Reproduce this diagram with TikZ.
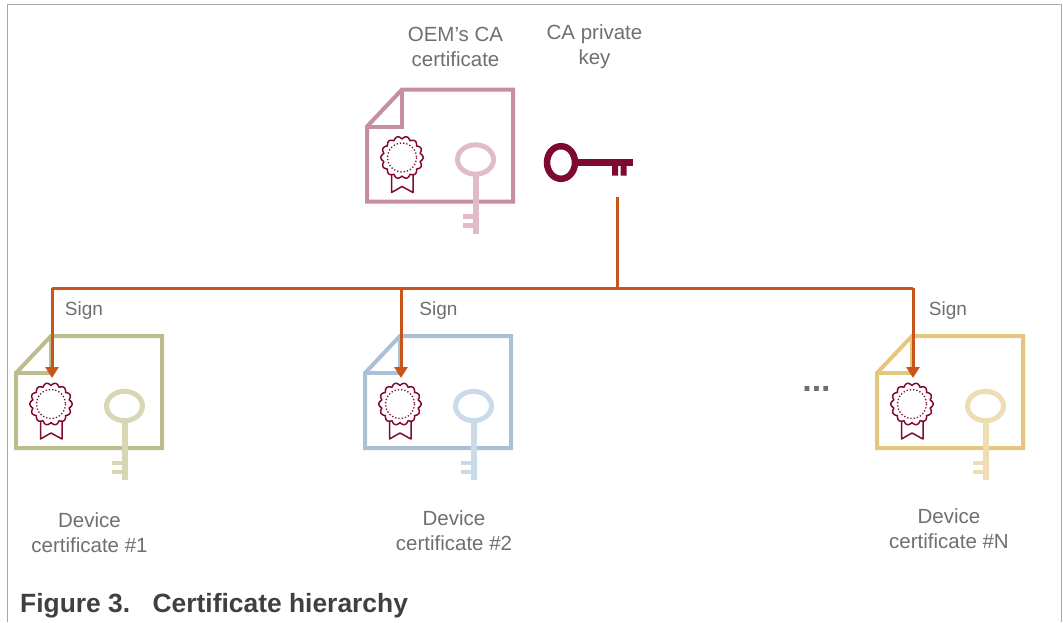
\documentclass[tikz,border=0pt]{standalone}
\usepackage{fontspec}
\setmainfont{Liberation Sans}
\usetikzlibrary{arrows.meta}
\definecolor{txtgray}{HTML}{6E6F72}
\definecolor{capgray}{HTML}{404040}
\definecolor{frameg}{HTML}{A8A8A8}
\definecolor{wine}{HTML}{7F0A30}
\definecolor{orng}{HTML}{C9551C}
\definecolor{roseA}{HTML}{C68DA3}
\definecolor{roseB}{HTML}{E0BCC9}
\definecolor{oliveA}{HTML}{BDBC8C}
\definecolor{oliveB}{HTML}{D8D7B4}
\definecolor{blueA}{HTML}{A9C0D6}
\definecolor{blueB}{HTML}{CBDAE8}
\definecolor{goldA}{HTML}{E5C67F}
\definecolor{goldB}{HTML}{EEDDB2}
\tikzset{
  x=1pt,y=-1pt,
  label text/.style={text=txtgray,font=\fontsize{20.5}{25}\selectfont,align=center,inner sep=0pt},
  sign text/.style={text=txtgray,font=\fontsize{19}{22}\selectfont,inner sep=0pt},
  link/.style={draw=orng,line width=3pt},
  linkarrow/.style={link,-{Triangle[length=11pt,width=13pt]}},
  pics/cert/.style 2 args={code={
    \draw[#1,line width=4pt,line join=miter] (0,37) -- (35,0) -- (146,0) -- (146,112) -- (0,112) -- cycle;
    \draw[#1,line width=4pt] (0,37) -- (35,37) -- (35,0);
    \draw[wine,line width=1.5pt,line join=round] (24.5,60) -- (24.5,103) -- (35,97) -- (46,103) -- (46,60);
    \fill[white,draw=wine,line width=1.5pt,line join=round,samples=260,domain=0:360,smooth]
      plot ({35+(18.5+2.6*abs(cos(7*\x)))*cos(\x)},{68+(18.5+2.6*abs(cos(7*\x)))*sin(\x)}) -- cycle;
    \draw[wine,line width=1.3pt,dash pattern=on 1.3pt off 2pt] (35,68) circle[radius=14.5];
    \draw[#2,line width=5pt] (108.5,70) ellipse[x radius=18,y radius=14.7];
    \draw[#2,line width=6pt] (109,85) -- (109,144);
    \draw[#2,line width=4.5pt] (96,127) -- (109,127) (96,136) -- (109,136);
  }}
}
\begin{document}
\begin{tikzpicture}
\useasboundingbox (0,0) rectangle (1063,622);
\draw[frameg,line width=1.2pt] (7.2,622) -- (7.2,4.7) -- (1061.5,4.7) -- (1061.5,622);
\node[label text] (caLabel) at (455.5,47) {OEM’s CA\\certificate};
\node[label text] (keyLabel) at (594.5,47) {CA private\\key};
\pic at (367,89.5) {cert={roseA}{roseB}};
\draw[wine,line width=6.5pt] (561,162.5) ellipse[x radius=14,y radius=16.3];
\draw[wine,line width=6.5pt] (577,162.5) -- (633,162.5);
\fill[wine] (612,162.5) rectangle (618,175.5) (620.5,162.5) rectangle (626.5,175.5);
\pic at (16,336) {cert={oliveA}{oliveB}};
\pic at (365,336) {cert={blueA}{blueB}};
\pic at (877,336) {cert={goldA}{goldB}};
\coordinate (keyEnd) at (617,197);
\coordinate (junction) at (617,288);
\coordinate (busA) at (52,288);
\coordinate (busB) at (401,288);
\coordinate (busC) at (913,288);
\coordinate (tipA) at (52,378);
\coordinate (tipB) at (401,378);
\coordinate (tipC) at (913,378);
\draw[link] (keyEnd) -- (junction);
\draw[link] (busA) -- (busC);
\draw[linkarrow] (busA) -- (tipA);
\draw[linkarrow] (busB) -- (tipB);
\draw[linkarrow] (busC) -- (tipC);
\node[sign text] (signA) at (84,311) {Sign};
\node[sign text] (signB) at (438.5,311) {Sign};
\node[sign text] (signC) at (948,311) {Sign};
\node[text=txtgray,font=\bfseries\fontsize{34}{34}\selectfont,inner sep=0pt] (dots) at (816.5,389) {...};
\node[label text] (devA) at (89.5,533) {Device\\certificate \#1};
\node[label text] (devB) at (454,531) {Device\\certificate \#2};
\node[label text] (devC) at (949,529) {Device\\certificate \#N};
\node[anchor=base west,text=capgray,font=\bfseries\fontsize{26.4}{26}\selectfont,inner sep=0pt] (caption) at (20,612) {Figure 3.\hspace{0.85em}Certificate hierarchy};
\end{tikzpicture}
\end{document}
